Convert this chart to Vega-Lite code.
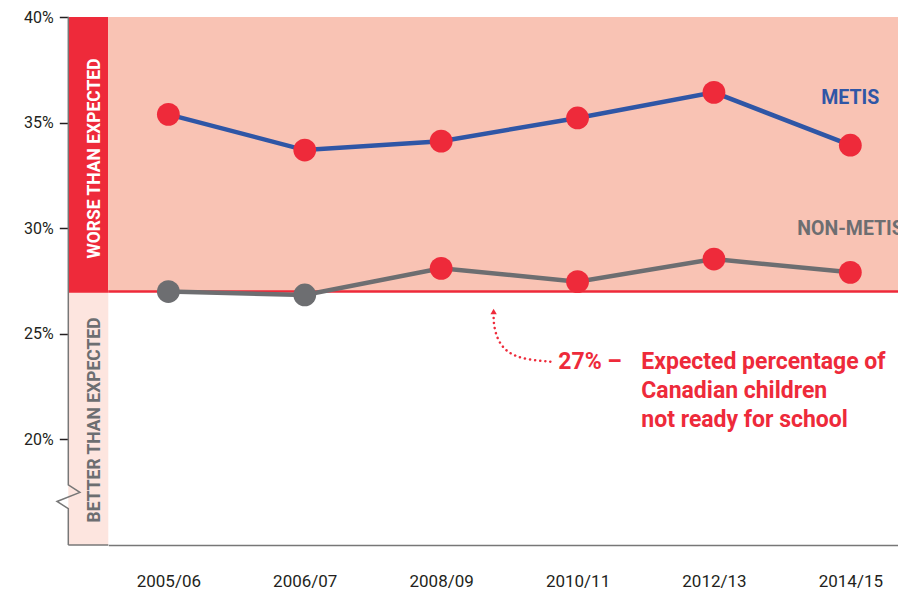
{
  "$schema": "https://vega.github.io/schema/vega-lite/v6.json",
  "autosize": {"type": "pad"},
  "padding": {"left": 23.3, "top": 9, "right": 0, "bottom": 0},
  "background": "white",
  "bounds": "flush",
  "config": {
    "view": {"stroke": null},
    "font": "Roboto",
    "concat": {"spacing": 0}
  },
  "spacing": 0,
  "resolve": {"scale": {"color": "independent"}},
  "hconcat": [
    {
      "width": 40,
      "height": 528,
      "layer": [
        {
          "data": {"values": [{"zone": "worse", "lo": 27, "hi": 40}]},
          "mark": {"type": "rect", "color": "#ee2a3a"},
          "encoding": {
            "y": {"field": "lo", "type": "quantitative",
              "scale": {"domain": [15, 40], "nice": false, "zero": false},
              "axis": {"title": null, "values": [20, 25, 30, 35, 40], "labelExpr": "datum.value + '%'",
                "domain": false, "grid": false, "tickSize": 9, "tickWidth": 1.5, "tickColor": "#231f20",
                "labelFont": "Roboto", "labelFontSize": 16, "labelColor": "#231f20", "labelPadding": 6}},
            "y2": {"field": "hi"}
          }
        },
        {
          "data": {"values": [{"zone": "better", "lo": 15, "hi": 27}]},
          "mark": {"type": "rect", "color": "#fde5df"},
          "encoding": {
            "y": {"field": "lo", "type": "quantitative",
              "scale": {"domain": [15, 40], "nice": false, "zero": false},
              "axis": {"title": null, "values": [20, 25, 30, 35, 40], "labelExpr": "datum.value + '%'",
                "domain": false, "grid": false, "tickSize": 9, "tickWidth": 1.5, "tickColor": "#231f20",
                "labelFont": "Roboto", "labelFontSize": 16, "labelColor": "#231f20", "labelPadding": 6}},
            "y2": {"field": "hi"}
          }
        },
        {
          "data": {"values": [{"expected": 27}]},
          "mark": {"type": "rule", "color": "#ee2a3a", "strokeWidth": 2.5},
          "encoding": {"y": {"field": "expected", "type": "quantitative", "scale": {"domain": [15, 40], "nice": false, "zero": false},
            "axis": {"title": null, "values": [20, 25, 30, 35, 40], "labelExpr": "datum.value + '%'",
                "domain": false, "grid": false, "tickSize": 9, "tickWidth": 1.5, "tickColor": "#231f20",
                "labelFont": "Roboto", "labelFontSize": 16, "labelColor": "#231f20", "labelPadding": 6}}}
        },
        {
          "data": {"values": [{"floor": 15}]},
          "mark": {"type": "rule", "color": "#777777", "strokeWidth": 1.5},
          "encoding": {"y": {"field": "floor", "type": "quantitative", "scale": {"domain": [15, 40], "nice": false, "zero": false},
            "axis": {"title": null, "values": [20, 25, 30, 35, 40], "labelExpr": "datum.value + '%'",
                "domain": false, "grid": false, "tickSize": 9, "tickWidth": 1.5, "tickColor": "#231f20",
                "labelFont": "Roboto", "labelFontSize": 16, "labelColor": "#231f20", "labelPadding": 6}}}
        },
        {
          "data": {"values": [
            {"k": 0, "bx": 0, "v": 40},
            {"k": 1, "bx": 0, "v": 17.85},
            {"k": 2, "bx": 11.6, "v": 17.49},
            {"k": 3, "bx": -11.3, "v": 17.06},
            {"k": 4, "bx": 0, "v": 16.72},
            {"k": 5, "bx": 0, "v": 15}
          ]},
          "mark": {"type": "line", "color": "#777777", "strokeWidth": 1.5, "clip": false},
          "encoding": {
            "x": {"field": "bx", "type": "quantitative", "scale": {"domain": [0, 40], "nice": false, "zero": false}, "axis": null},
            "y": {"field": "v", "type": "quantitative", "scale": {"domain": [15, 40], "nice": false, "zero": false},
              "axis": {"title": null, "values": [20, 25, 30, 35, 40], "labelExpr": "datum.value + '%'",
                "domain": false, "grid": false, "tickSize": 9, "tickWidth": 1.5, "tickColor": "#231f20",
                "labelFont": "Roboto", "labelFontSize": 16, "labelColor": "#231f20", "labelPadding": 6}},
            "order": {"field": "k", "type": "quantitative"}
          }
        },
        {
          "data": {"values": [{"label": "WORSE THAN EXPECTED", "v": 33.3}]},
          "mark": {"type": "text", "angle": 270, "font": "Roboto", "fontSize": 17.5, "fontWeight": "bold", "color": "white", "align": "center", "baseline": "alphabetic", "dy": 12},
          "encoding": {
            "y": {"field": "v", "type": "quantitative", "scale": {"domain": [15, 40], "nice": false, "zero": false},
              "axis": {"title": null, "values": [20, 25, 30, 35, 40], "labelExpr": "datum.value + '%'",
                "domain": false, "grid": false, "tickSize": 9, "tickWidth": 1.5, "tickColor": "#231f20",
                "labelFont": "Roboto", "labelFontSize": 16, "labelColor": "#231f20", "labelPadding": 6}},
            "text": {"field": "label"}
          }
        },
        {
          "data": {"values": [{"label": "BETTER THAN EXPECTED", "v": 20.92}]},
          "mark": {"type": "text", "angle": 270, "font": "Roboto", "fontSize": 17.5, "fontWeight": "bold", "color": "#6d6e71", "align": "center", "baseline": "alphabetic", "dy": 12},
          "encoding": {
            "y": {"field": "v", "type": "quantitative", "scale": {"domain": [15, 40], "nice": false, "zero": false},
              "axis": {"title": null, "values": [20, 25, 30, 35, 40], "labelExpr": "datum.value + '%'",
                "domain": false, "grid": false, "tickSize": 9, "tickWidth": 1.5, "tickColor": "#231f20",
                "labelFont": "Roboto", "labelFontSize": 16, "labelColor": "#231f20", "labelPadding": 6}},
            "text": {"field": "label"}
          }
        }
      ]
    },
    {
      "width": 790,
      "height": 528,
      "resolve": {"scale": {"x": "independent"}, "axis": {"x": "independent"}},
      "layer": [
        {
          "layer": [
            {
              "data": {"values": [{"lo": 27, "hi": 40}]},
              "mark": {"type": "rect", "color": "#f9c3b4"},
              "encoding": {
                "y": {"field": "lo", "type": "quantitative", "scale": {"domain": [15, 40], "nice": false, "zero": false}, "axis": null},
                "y2": {"field": "hi"}
              }
            },
            {
              "data": {"values": [{"expected": 27}]},
              "mark": {"type": "rule", "color": "#ee2a3a", "strokeWidth": 2.5},
              "encoding": {"y": {"field": "expected", "type": "quantitative", "scale": {"domain": [15, 40], "nice": false, "zero": false}, "axis": null}}
            },
            {
              "data": {"values": [
                {"period": "2005/06", "group": "Metis", "value": 35.39},
                {"period": "2006/07", "group": "Metis", "value": 33.7},
                {"period": "2008/09", "group": "Metis", "value": 34.12},
                {"period": "2010/11", "group": "Metis", "value": 35.22},
                {"period": "2012/13", "group": "Metis", "value": 36.43},
                {"period": "2014/15", "group": "Metis", "value": 33.93},
                {"period": "2005/06", "group": "Non-Metis", "value": 27.0},
                {"period": "2006/07", "group": "Non-Metis", "value": 26.84},
                {"period": "2008/09", "group": "Non-Metis", "value": 28.1},
                {"period": "2010/11", "group": "Non-Metis", "value": 27.47},
                {"period": "2012/13", "group": "Non-Metis", "value": 28.54},
                {"period": "2014/15", "group": "Non-Metis", "value": 27.91}
              ]},
              "layer": [
                {
                  "mark": {"type": "line", "strokeWidth": 4.5},
                  "encoding": {
                    "x": {"field": "period", "type": "ordinal", "sort": null,
                      "scale": {"type": "point", "padding": 0.396, "align": 0.556},
                      "axis": {"title": null, "domainColor": "#777777", "domainWidth": 1.5, "ticks": false, "labelAngle": 0,
                        "labelFont": "Roboto", "labelFontSize": 17, "labelColor": "#231f20", "labelPadding": 29, "grid": false}},
                    "y": {"field": "value", "type": "quantitative", "scale": {"domain": [15, 40], "nice": false, "zero": false}, "axis": null},
                    "color": {"field": "group", "type": "nominal",
                      "scale": {"domain": ["Metis", "Non-Metis"], "range": ["#2f56a6", "#6d6e71"]}, "legend": null}
                  }
                },
                {
                  "mark": {"type": "point", "filled": true, "opacity": 1, "size": 520},
                  "encoding": {
                    "x": {"field": "period", "type": "ordinal", "sort": null,
                      "scale": {"type": "point", "padding": 0.396, "align": 0.556}},
                    "y": {"field": "value", "type": "quantitative", "scale": {"domain": [15, 40], "nice": false, "zero": false}, "axis": null},
                    "color": {"condition": {"test": "datum.value > 27", "value": "#ee2a3a"}, "value": "#6d6e71"}
                  }
                }
              ]
            }
          ]
        },
        {
          "layer": [
            {
              "data": {"values": [
                {"k": 0, "t": 2.801, "v": 23.68},
                {"k": 1, "t": 2.617, "v": 23.78},
                {"k": 2, "t": 2.485, "v": 24.09},
                {"k": 3, "t": 2.412, "v": 24.71},
                {"k": 4, "t": 2.386, "v": 25.42},
                {"k": 5, "t": 2.385, "v": 25.84}
              ]},
              "mark": {"type": "line", "color": "#ee2a3a", "strokeWidth": 2.5, "strokeDash": [0.1, 5], "strokeCap": "round", "interpolate": "basis"},
              "encoding": {
                "x": {"field": "t", "type": "quantitative", "scale": {"domain": [-0.44, 5.352], "nice": false, "zero": false}, "axis": null},
                "y": {"field": "v", "type": "quantitative", "scale": {"domain": [15, 40], "nice": false, "zero": false}, "axis": null},
                "order": {"field": "k", "type": "quantitative"}
              }
            },
            {
              "data": {"values": [{"t": 2.385, "v": 26.06}]},
              "mark": {"type": "point", "shape": "triangle-up", "filled": true, "opacity": 1, "size": 40, "color": "#ee2a3a"},
              "encoding": {
                "x": {"field": "t", "type": "quantitative", "scale": {"domain": [-0.44, 5.352], "nice": false, "zero": false}, "axis": null},
                "y": {"field": "v", "type": "quantitative", "scale": {"domain": [15, 40], "nice": false, "zero": false}, "axis": null}
              }
            },
            {
              "data": {"values": [
                {"label": "27% –", "t": 2.859, "v": 23.67},
                {"label": "Expected percentage of", "t": 3.468, "v": 23.67},
                {"label": "Canadian children", "t": 3.468, "v": 22.29},
                {"label": "not ready for school", "t": 3.468, "v": 20.93}
              ]},
              "mark": {"type": "text", "align": "left", "baseline": "middle", "font": "Roboto", "fontSize": 23, "fontWeight": "bold", "color": "#ee2a3a"},
              "encoding": {
                "x": {"field": "t", "type": "quantitative", "scale": {"domain": [-0.44, 5.352], "nice": false, "zero": false}, "axis": null},
                "y": {"field": "v", "type": "quantitative", "scale": {"domain": [15, 40], "nice": false, "zero": false}, "axis": null},
                "text": {"field": "label"}
              }
            },
            {
              "data": {"values": [
                {"label": "METIS", "group": "Metis", "t": 4.787, "v": 36.17},
                {"label": "NON-METIS", "group": "Non-Metis", "t": 4.611, "v": 29.96}
              ]},
              "mark": {"type": "text", "align": "left", "baseline": "middle", "font": "Roboto", "fontSize": 19.5, "fontWeight": "bold"},
              "encoding": {
                "x": {"field": "t", "type": "quantitative", "scale": {"domain": [-0.44, 5.352], "nice": false, "zero": false}, "axis": null},
                "y": {"field": "v", "type": "quantitative", "scale": {"domain": [15, 40], "nice": false, "zero": false}, "axis": null},
                "text": {"field": "label"},
                "color": {"field": "group", "type": "nominal",
                  "scale": {"domain": ["Metis", "Non-Metis"], "range": ["#2f56a6", "#6d6e71"]}, "legend": null}
              }
            }
          ]
        }
      ]
    }
  ]
}
